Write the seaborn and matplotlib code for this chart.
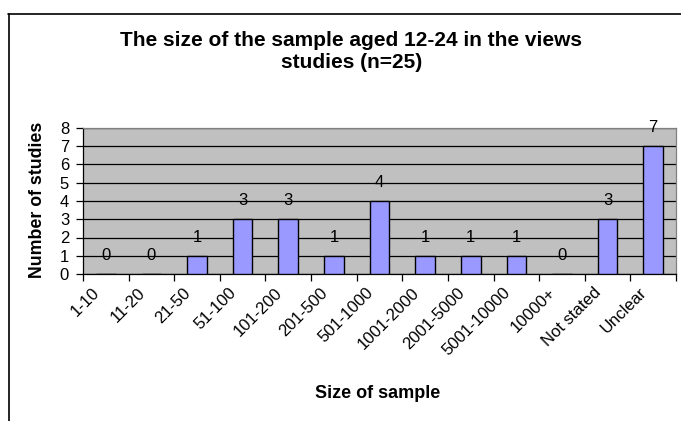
import matplotlib
matplotlib.use("Agg")
import matplotlib.pyplot as plt
from matplotlib.lines import Line2D
from matplotlib.transforms import ScaledTranslation
import seaborn as sns
import pandas as pd

sample_sizes = ["1-10", "11-20", "21-50", "51-100", "101-200", "201-500",
                "501-1000", "1001-2000", "2001-5000", "5001-10000", "10000+",
                "Not stated", "Unclear"]
study_counts = [0, 0, 1, 3, 3, 1, 4, 1, 1, 1, 0, 3, 7]
y_ticks = [0, 1, 2, 3, 4, 5, 6, 7, 8]

sns.set_style("white")
plt.rcParams["font.family"] = ["Liberation Sans", "DejaVu Sans"]
plt.rcParams.update({"text.color": "black", "axes.labelcolor": "black",
                     "xtick.color": "black", "ytick.color": "black"})

df = pd.DataFrame({"size": sample_sizes, "count": study_counts})

W, H = 681, 421
fig = plt.figure(figsize=(W / 100, H / 100), dpi=100)
fig.patch.set_facecolor("white")

# plot area in pixel terms
left, right, top, bottom = 83, 676, 128, 274
ax = fig.add_axes([left / W, 1 - bottom / H, (right - left) / W, (bottom - top) / H])
ax.set_facecolor("#C0C0C0")

sns.barplot(data=df, x="size", y="count", color="#9999FF", width=0.43,
            edgecolor="black", linewidth=1.0, saturation=1, ax=ax, zorder=3)

ax.set_ylim(0, 8)
ax.set_xlim(-0.5, len(sample_sizes) - 0.5)
ax.set_yticks(y_ticks)
ax.set_yticklabels([str(t) for t in y_ticks], fontsize=12)
ax.yaxis.grid(True, color="#000000", linewidth=0.9, zorder=0)
ax.set_axisbelow(True)

# category boundary ticks on the x axis
ax.set_xticks([i - 0.5 for i in range(len(sample_sizes) + 1)], minor=True)
ax.tick_params(axis="x", which="minor", length=5, width=0.9, color="black", direction="out", bottom=True)
ax.tick_params(axis="x", which="major", length=0, pad=8)
ax.tick_params(axis="y", which="major", length=5, width=0.9, color="black", direction="out", left=True, pad=5)
ax.set_xticks(range(len(sample_sizes)))
ax.set_xticklabels(sample_sizes, rotation=45, ha="right", va="top",
                   rotation_mode="anchor", fontsize=12)
shift = ScaledTranslation(-14 / 100, 0, fig.dpi_scale_trans)
for lbl in ax.get_xticklabels():
    lbl.set_transform(lbl.get_transform() + shift)

for side in ["left", "bottom"]:
    ax.spines[side].set_color("black")
    ax.spines[side].set_linewidth(0.9)
for side in ["top", "right"]:
    ax.spines[side].set_color("#808080")
    ax.spines[side].set_linewidth(0.9)

for cont in ax.containers:
    ax.bar_label(cont, labels=[str(v) for v in study_counts], padding=8, fontsize=12)

ax.set_xlabel("Size of sample", fontsize=13, fontweight="bold")
ax.xaxis.set_label_coords(0.4975, (bottom - 393) / (bottom - top))
ax.xaxis.label.set_va("center")
ax.set_ylabel("Number of studies", fontsize=12.8, fontweight="bold")
ax.yaxis.set_label_coords((38 - left) / (right - left), (bottom - 200) / (bottom - top))
ax.yaxis.label.set_va("center")

fig.text(351 / W, 1 - 41 / H, "The size of the sample aged 12-24 in the views",
         ha="center", va="center", fontsize=15, fontweight="bold")
fig.text(352 / W, 1 - 62 / H, "studies (n=25)",
         ha="center", va="center", fontsize=15, fontweight="bold")

# chart frame
fig.add_artist(Line2D([8.5 / W, 8.5 / W], [0, 1 - 14 / H], transform=fig.transFigure,
                      color="black", linewidth=1.2))
fig.add_artist(Line2D([8 / W, 1], [1 - 14 / H, 1 - 14 / H], transform=fig.transFigure,
                      color="black", linewidth=1.2))

fig.savefig("out.png", dpi=100)
